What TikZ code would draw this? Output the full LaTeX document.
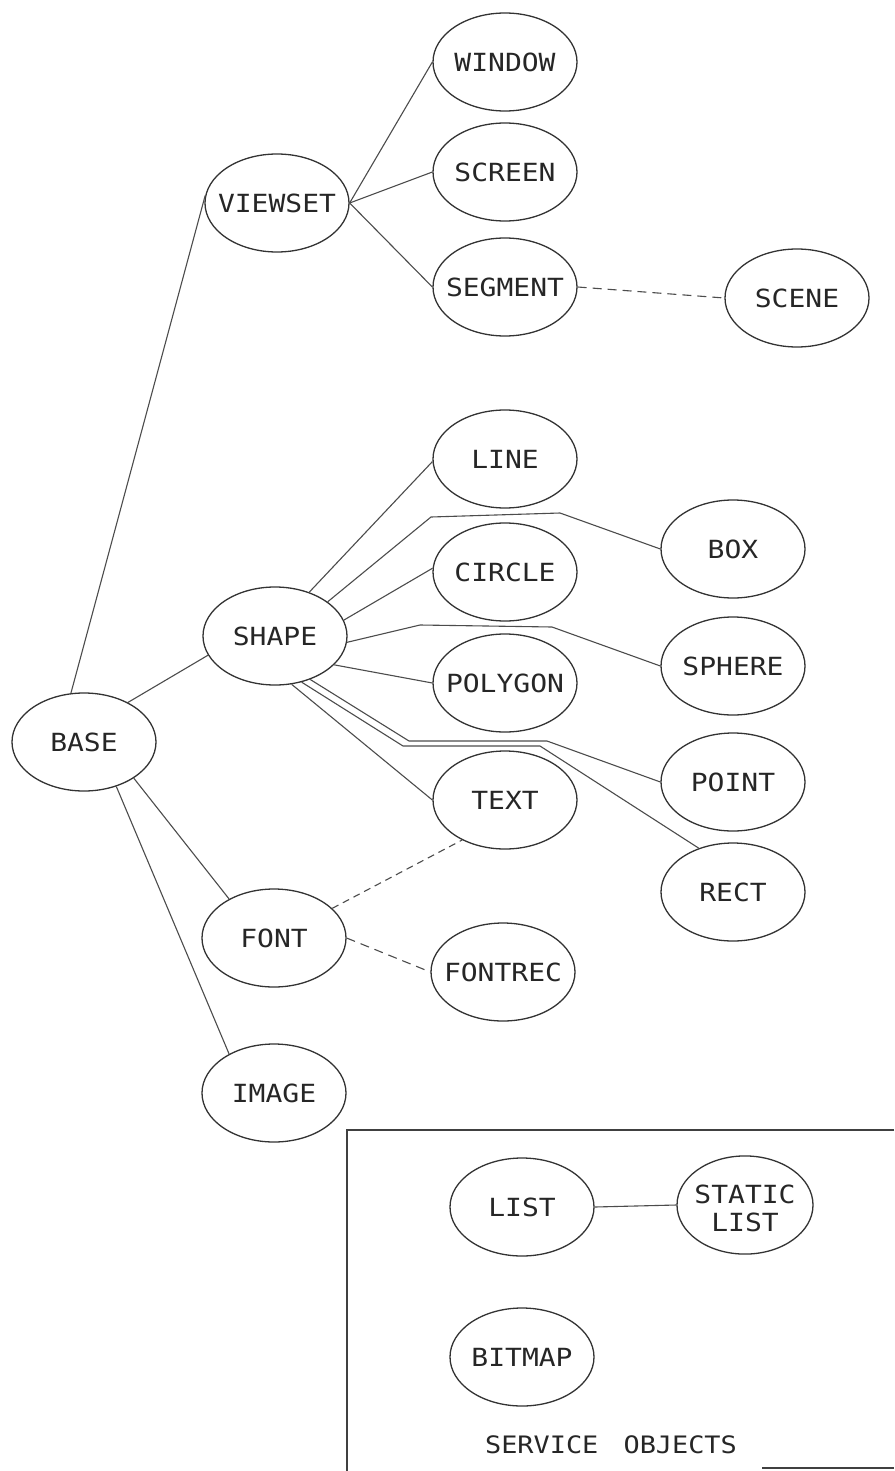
\documentclass[tikz,border=0pt]{standalone}
\usepackage{fontspec}
\setmonofont{DejaVu Sans Mono}[FakeStretch=1.12]
\usetikzlibrary{shapes.geometric}
\newcommand\objl[1]{\makebox[0pt]{#1}}
\tikzset{
  obj/.style={ellipse, draw=black!80, line width=1.3pt, minimum width=144pt,
    minimum height=98pt, inner sep=0pt, text=black!85,
    font=\ttfamily\fontsize{25pt}{28pt}\selectfont},
  link/.style={draw=black!70, line width=1.1pt},
  dlink/.style={link, dash pattern=on 9pt off 6pt},
  slink/.style={link, dash pattern=on 7pt off 5pt},
  frame/.style={draw=black!75, line width=1.3pt},
  caption/.style={text=black!85, inner sep=0pt,
    font=\ttfamily\fontsize{24pt}{26pt}\selectfont},
}
\begin{document}
\begin{tikzpicture}[x=1pt,y=-1pt]
\fill[white] (0,0) rectangle (894,1471);
\useasboundingbox (0,0) rectangle (894,1471);

% nodes
\node[obj] (base)    at (84,742)  {\objl{BASE}};
\node[obj] (viewset) at (277,203) {\objl{VIEWSET}};
\node[obj] (window)  at (505,62)  {\objl{WINDOW}};
\node[obj] (screen)  at (505,172) {\objl{SCREEN}};
\node[obj] (segment) at (505,287) {\objl{SEGMENT}};
\node[obj] (scene)   at (797,298) {\objl{SCENE}};
\node[obj] (line)    at (505,459) {\objl{LINE}};
\node[obj] (box)     at (733,549) {\objl{BOX}};
\node[obj] (circle)  at (505,572) {\objl{CIRCLE}};
\node[obj] (shape)   at (275,636) {\objl{SHAPE}};
\node[obj] (sphere)  at (733,666) {\objl{SPHERE}};
\node[obj] (polygon) at (505,683) {\objl{POLYGON}};
\node[obj] (point)   at (733,782) {\objl{POINT}};
\node[obj] (text)    at (505,800) {\objl{TEXT}};
\node[obj] (rect)    at (733,892) {\objl{RECT}};
\node[obj] (font)    at (274,938) {\objl{FONT}};
\node[obj] (fontrec) at (503,972) {\objl{FONTREC}};
\node[obj] (image)   at (274,1093) {\objl{IMAGE}};
\node[obj] (list)    at (522,1207) {\objl{LIST}};
\node[obj, minimum width=136pt] (static) at (745,1205)
  {\objl{\begin{tabular}{@{}c@{}}\rule{0pt}{33pt}STATIC\\LIST\end{tabular}}};
\node[obj] (bitmap)  at (522,1357) {\objl{BITMAP}};
\node[caption] (service) at (611,1445) {SERVICE\hspace{1.05em}OBJECTS};

% bend points
\coordinate (b1) at (431,517); \coordinate (b2) at (560,513);
\coordinate (s1) at (420,625); \coordinate (s2) at (552,627);
\coordinate (p1) at (409,741); \coordinate (p2) at (547,741);
\coordinate (r1) at (403,746); \coordinate (r2) at (540,746);

% connectors
\draw[link] (base.105) -- (viewset.174);
\draw[link] (base.42) -- (shape.196);
\draw[link] (base.-36) -- (font.139);
\draw[link] (base.-54) -- (image.139);
\draw[link] (viewset.east) -- (window.west);
\draw[link] (viewset.east) -- (screen.west);
\draw[link] (viewset.east) -- (segment.west);
\draw[dlink] (segment.east) -- (scene.west);
\draw[link] (shape.52) -- (line.182);
\draw[link] (shape.33) -- (b1) -- (b2) -- (box.west);
\draw[link] (shape.13) -- (circle.177);
\draw[link] (shape.-5) -- (s1) -- (s2) -- (sphere.west);
\draw[link] (shape.-26) -- (polygon.west);
\draw[link] (shape.-71) -- (text.west);
\draw[link] (shape.-51) -- (p1) -- (p2) -- (point.west);
\draw[link] (shape.-60) -- (r1) -- (r2) -- (rect.128);
\draw[slink] (font.27) -- (text.223);
\draw[dlink] (font.east) -- (fontrec.west);
\draw[link] (list.east) -- (static.west);

% service objects frame
\coordinate (ftr) at (894,1130);
\coordinate (ftl) at (347,1130);
\coordinate (fbl) at (347,1471);
\coordinate (fb1) at (762,1468);
\coordinate (fb2) at (894,1468);
\draw[frame] (ftr) -- (ftl) -- (fbl);
\draw[frame] (fb1) -- (fb2);
\end{tikzpicture}
\end{document}
